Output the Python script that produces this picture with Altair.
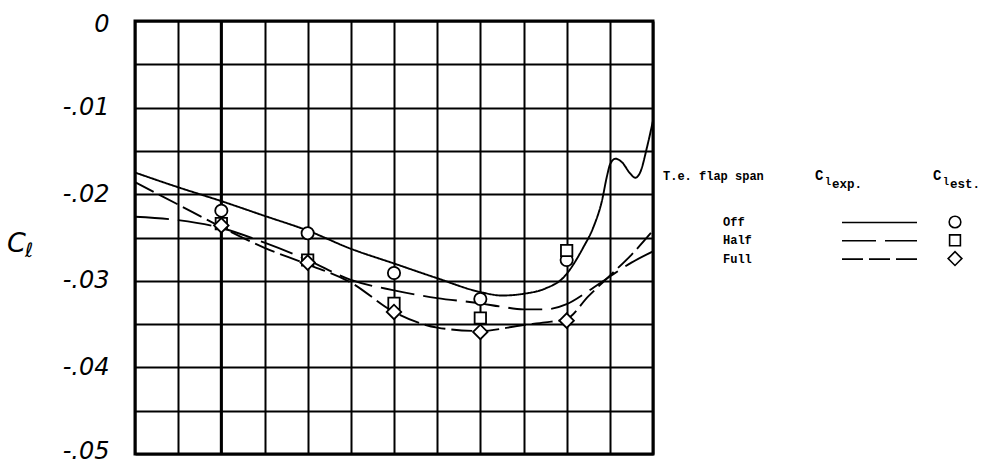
import altair as alt
import pandas as pd

# ---------------- data ----------------
x_grid = [0, 1, 2, 3, 4, 5, 6, 7, 8, 9, 10, 11, 12]
y_grid = [0, -0.005, -0.01, -0.015, -0.02, -0.025, -0.03, -0.035, -0.04, -0.045, -0.05]
y_tick_values = [0, -0.01, -0.02, -0.03, -0.04, -0.05]
y_tick_labels = ["0", "-.01", "-.02", "-.03", "-.04", "-.05"]
emphasis_x = [2]

series_names = ["Off", "Half", "Full"]

off_x = [0, 1, 2, 3, 4, 5, 6, 7, 8, 8.5, 9, 9.5, 9.93, 10.39, 10.62, 10.82, 10.93,
         11.01, 11.13, 11.28, 11.47, 11.59, 11.71, 11.86, 12.0]
off_y = [-0.0175, -0.0192, -0.0208, -0.0225, -0.0242, -0.0263, -0.0280, -0.0297,
         -0.0313, -0.0317, -0.0315, -0.0309, -0.0296, -0.0261, -0.0238, -0.0207,
         -0.0180, -0.0165, -0.0159, -0.0163, -0.0176, -0.0181, -0.0174, -0.0146, -0.0115]

half_x = [0, 1, 2, 3, 4, 5, 6, 7, 8, 8.5, 9, 9.5, 10, 10.5, 11, 11.5, 12]
half_y = [-0.0226, -0.0230, -0.0239, -0.0256, -0.0276, -0.0299, -0.0311, -0.0320,
          -0.0326, -0.0330, -0.0333, -0.0333, -0.0327, -0.0312, -0.0295, -0.0279, -0.0266]

full_x = [0, 1, 2, 3, 4, 5, 6, 7, 8, 9, 9.5, 10, 10.5, 11, 11.5, 12]
full_y = [-0.0186, -0.0212, -0.0238, -0.0262, -0.0281, -0.0302, -0.0336, -0.0354,
          -0.0358, -0.0351, -0.0348, -0.0344, -0.0318, -0.0294, -0.0270, -0.0242]

point_x = [2, 4, 6, 8, 10]
off_pts = [-0.0219, -0.0245, -0.0291, -0.0321, -0.0276]
half_pts = [-0.0234, -0.0276, -0.0326, -0.0343, -0.0265]
full_pts = [-0.0236, -0.0279, -0.0336, -0.0359, -0.0346]

# ---------------- styles ----------------
W, H = 518, 433
dashes = {"Off": [1, 0], "Half": [34, 9], "Full": [21, 6]}
shapes = {"Off": "circle", "Half": "square", "Full": "diamond"}
sizes = {"Off": 150, "Half": 130, "Full": 210}
LEG_FONT = "Liberation Mono"

label_expr = " : ".join(
    f"abs(datum.value - ({v})) < 1e-6 ? '{l}'" for v, l in zip(y_tick_values, y_tick_labels)
) + " : ''"

x_enc = alt.X("x:Q", scale=alt.Scale(domain=[0, 12], nice=False, zero=False),
              axis=alt.Axis(values=x_grid, labels=False, ticks=False, domain=False,
                            grid=True, gridColor="black", gridWidth=2, gridOpacity=1,
                            title=None))
y_enc = alt.Y("y:Q", scale=alt.Scale(domain=[-0.05, 0], nice=False, zero=False),
              axis=alt.Axis(values=y_grid, labelExpr=label_expr, ticks=False, domain=False,
                            grid=True, gridColor="black", gridWidth=2, gridOpacity=1,
                            labelFont="DejaVu Sans", labelFontStyle="italic",
                            labelFontSize=24, labelColor="black", labelPadding=26,
                            labelOverlap=False, labelFlush=True, labelFlushOffset=9,
                            title=None))

layers = []

# emphasised grid line
layers.append(
    alt.Chart(pd.DataFrame({"x": emphasis_x})).mark_rule(color="black", strokeWidth=3)
    .encode(x=x_enc)
)

curves = {"Off": (off_x, off_y), "Half": (half_x, half_y), "Full": (full_x, full_y)}
for name in series_names:
    cx, cy = curves[name]
    df = pd.DataFrame({"x": cx, "y": cy})
    layers.append(
        alt.Chart(df).mark_line(color="black", strokeWidth=1.9, interpolate="monotone",
                                strokeDash=dashes[name])
        .encode(x=x_enc, y=y_enc)
    )

pts = {"Off": off_pts, "Half": half_pts, "Full": full_pts}
for name in series_names:
    df = pd.DataFrame({"x": point_x, "y": pts[name]})
    layers.append(
        alt.Chart(df).mark_point(shape=shapes[name], filled=True, fill="white",
                                 stroke="black", strokeWidth=1.8, size=sizes[name],
                                 opacity=1)
        .encode(x=x_enc, y=y_enc)
    )


def text_layer(txt, px, py, size, font=LEG_FONT, style="normal", weight="bold",
               baseline="alphabetic"):
    return alt.Chart(pd.DataFrame({"t": [txt]})).mark_text(
        align="left", baseline=baseline, font=font, fontSize=size, fontStyle=style,
        fontWeight=weight, color="black"
    ).encode(x=alt.value(px), y=alt.value(py), text="t:N")


# y-axis title C_l
layers.append(text_layer("C", -128, 231, 27, font="DejaVu Sans", style="italic",
                         weight="normal"))
layers.append(text_layer("ℓ", -110, 236, 20, font="DejaVu Sans", style="italic",
                         weight="normal"))

# legend header
layers.append(text_layer("T.e. flap span", 528, 159, 12))
layers.append(text_layer("C", 680, 159, 14))
layers.append(text_layer("l", 690, 164, 10))
layers.append(text_layer("exp.", 697, 167, 12.5))
layers.append(text_layer("C", 798, 159, 14))
layers.append(text_layer("l", 808, 164, 10))
layers.append(text_layer("est.", 815, 167, 12.5))

# legend rows
for i, name in enumerate(series_names):
    yy = 201 + i * 18.3
    layers.append(text_layer(name, 588, yy, 12, baseline="middle"))
    layers.append(
        alt.Chart(pd.DataFrame({"t": [name]})).mark_rule(
            color="black", strokeWidth=1.6, strokeDash=dashes[name]
        ).encode(x=alt.value(707), x2=alt.value(782), y=alt.value(yy + 0.5))
    )
    layers.append(
        alt.Chart(pd.DataFrame({"t": [name]})).mark_point(
            shape=shapes[name], filled=True, fill="white", stroke="black",
            strokeWidth=1.6, size=sizes[name] * 0.9, opacity=1
        ).encode(x=alt.value(820), y=alt.value(yy))
    )

chart = alt.layer(*layers).properties(
    width=W, height=H,
    autosize=alt.AutoSizeParams(type="none"),
    padding={"left": 135, "top": 21, "right": 997 - 135 - W, "bottom": 464 - 21 - H},
    background="white",
).configure_view(stroke="black", strokeWidth=3)

chart.save("out.html", embed_options={"renderer": "svg", "actions": False})
